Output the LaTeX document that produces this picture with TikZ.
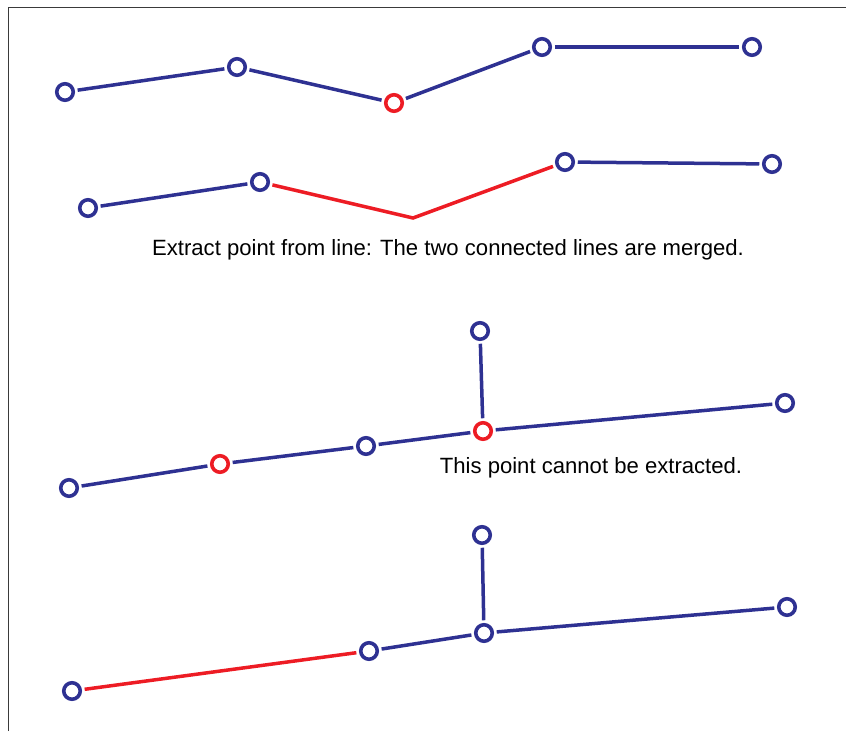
\documentclass[tikz,border=0pt]{standalone}
\usepackage{fontspec}
\setmainfont{Liberation Sans}
\definecolor{navy}{HTML}{2E3192}
\definecolor{redl}{HTML}{ED1C24}
\definecolor{frame}{HTML}{3A3A3A}
\begin{document}
\begin{tikzpicture}[x=1pt,y=-1pt,
  vtx/.style={circle,draw=navy,fill=white,line width=3.6pt,minimum size=16.5pt,inner sep=0pt,outer sep=4.5pt},
  rvtx/.style={vtx,draw=redl},
  bl/.style={draw=navy,line width=3.5pt},
  rl/.style={draw=redl,line width=3.5pt},
  lbl/.style={font=\fontsize{22.1}{26}\selectfont,inner sep=0pt}]
\useasboundingbox (0,0) rectangle (846,731);
\draw[frame,line width=1.5pt] (8.5,731) -- (8.5,7.5) -- (846,7.5);
% row 1
\node[vtx] (a1) at (65,92) {};
\node[vtx] (b1) at (237,67) {};
\node[rvtx] (c1) at (394,103) {};
\node[vtx] (d1) at (542,47) {};
\node[vtx] (e1) at (752,47) {};
\draw[bl] (a1) -- (b1);
\draw[bl] (b1) -- (c1);
\draw[bl] (c1) -- (d1);
\draw[bl] (d1) -- (e1);
% row 2
\node[vtx] (a2) at (88,208) {};
\node[vtx] (b2) at (260,182) {};
\coordinate (k2) at (413,218);
\node[vtx] (d2) at (565,162) {};
\node[vtx] (e2) at (772,164) {};
\draw[bl] (a2) -- (b2);
\draw[rl] (b2) -- (k2) -- (d2);
\draw[bl] (d2) -- (e2);
\node[lbl] (t1) at (448,250) {Extract point from line: The two connected lines are merged.};
% row 3
\node[vtx] (a3) at (69,488) {};
\node[rvtx] (b3) at (220,464) {};
\node[vtx] (c3) at (366,446) {};
\node[rvtx] (d3) at (483,431) {};
\node[vtx] (e3) at (785,403) {};
\node[vtx] (f3) at (480,331) {};
\draw[bl] (a3) -- (b3);
\draw[bl] (b3) -- (c3);
\draw[bl] (c3) -- (d3);
\draw[bl] (d3) -- (e3);
\draw[bl] (f3) -- (d3);
\node[lbl] (t2) at (591,468) {This point cannot be extracted.};
% row 4
\node[vtx] (a4) at (72,691) {};
\node[vtx] (c4) at (369,651) {};
\node[vtx] (d4) at (484,633) {};
\node[vtx] (e4) at (787,607) {};
\node[vtx] (f4) at (482,535) {};
\draw[rl] (a4) -- (c4);
\draw[bl] (c4) -- (d4);
\draw[bl] (d4) -- (e4);
\draw[bl] (f4) -- (d4);
\end{tikzpicture}
\end{document}
